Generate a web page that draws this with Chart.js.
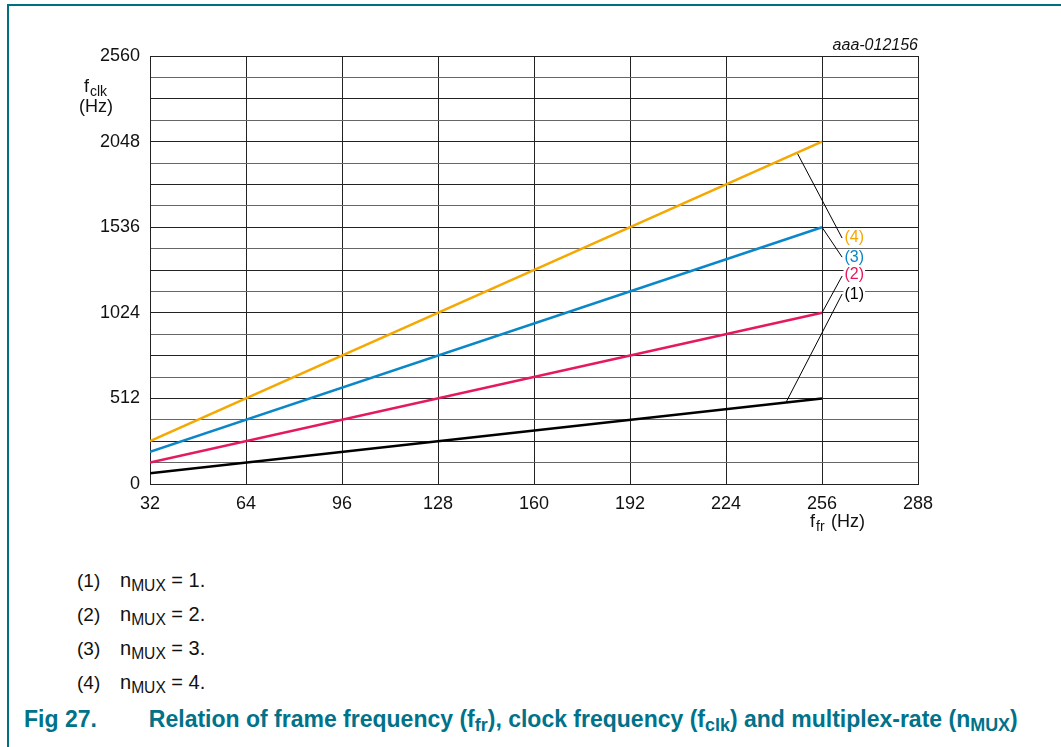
<!DOCTYPE html>
<html>
<head>
<meta charset="utf-8">
<script src="https://cdn.jsdelivr.net/npm/chart.js@4"></script>
<style>
  body { margin: 0; background: #fff; font-family: "Liberation Sans", Arial, sans-serif; }
  #frame { position: absolute; left: 7px; top: 4px; width: 1054px; height: 743px;
           border-top: 2px solid #00707f; border-left: 2px solid #00707f; }
  #wrap { position: absolute; left: 0; top: 0; width: 1061px; height: 545px; }
  .note { position: absolute; left: 77px; font-size: 19px; color: #111; }
  .note span { position: absolute; left: 43px; white-space: nowrap; font-size: 20px; }
  sub { font-size: 78%; vertical-align: -0.25em; }
  #caption { position: absolute; left: 24px; top: 706px; font-size: 23px; font-weight: bold;
             color: #00728a; white-space: nowrap; }
  #caption b { margin-right: 52px; }
</style>
</head>
<body>
<div id="frame"></div>
<div id="wrap"><canvas id="myChart" width="1061" height="545"></canvas></div>

<div class="note" style="top:570px">(1)<span style="top:-1px">n<sub>MUX</sub> = 1.</span></div>
<div class="note" style="top:604px">(2)<span style="top:-1px">n<sub>MUX</sub> = 2.</span></div>
<div class="note" style="top:638px">(3)<span style="top:-1px">n<sub>MUX</sub> = 3.</span></div>
<div class="note" style="top:672px">(4)<span style="top:-1px">n<sub>MUX</sub> = 4.</span></div>
<div id="caption"><b>Fig 27.</b>Relation of frame frequency (f<sub>fr</sub>), clock frequency (f<sub>clk</sub>) and multiplex-rate (n<sub>MUX</sub>)</div>

<script>
// frame frequency (x) and clock frequency (y) for each multiplex rate
const ffr = [32, 256];
const fclkMux1 = [64, 512];
const fclkMux2 = [128, 1024];
const fclkMux3 = [192, 1536];
const fclkMux4 = [256, 2048];

const seriesColors = ['#000000', '#e5195c', '#0a87c8', '#f5a800'];
const seriesLabels = ['(1)', '(2)', '(3)', '(4)'];

// leader lines: [x1, y1, x2, y2] from curve to label
const leader1 = [244, 488, 262.7, 1136];
const leader2 = [256, 1024, 262.7, 1244];
const leader3 = [256, 1536, 262.7, 1357];
const leader4 = [247.7, 1981, 262.7, 1471];
// label anchor positions (x, y)
const labelX = 263.5;
const labelY = [1130, 1250, 1357, 1471];

const yTicksLabelled = [0, 512, 1024, 1536, 2048, 2560];

function pts(xs, ys) { return xs.map((x, i) => ({x: x, y: ys[i]})); }
function seg(a) { return [{x: a[0], y: a[1]}, {x: a[2], y: a[3]}]; }

const font = '"Liberation Sans", Arial, sans-serif';

// draws axis titles with subscripts, the id tag and curve labels
const extras = {
  id: 'extras',
  afterDraw(chart) {
    const c = chart.ctx;
    const xs = chart.scales.x, ys = chart.scales.y;
    c.save();
    c.fillStyle = '#111';
    c.textBaseline = 'alphabetic';
    // y title
    c.textAlign = 'left';
    c.font = '18px ' + font;
    c.fillText('f', 84, 92);
    c.font = '14px ' + font;
    c.fillText('clk', 90, 96);
    c.font = '18px ' + font;
    c.fillText('(Hz)', 79, 112);
    // x title
    c.fillText('f', 810, 527);
    c.font = '14px ' + font;
    c.fillText('fr', 816, 531);
    c.font = '18px ' + font;
    c.fillText('(Hz)', 831, 527);
    // id tag
    c.textAlign = 'right';
    c.font = 'italic 16px ' + font;
    c.fillText('aaa-012156', 918, 50);
    // curve labels
    c.textAlign = 'left';
    c.textBaseline = 'middle';
    c.font = '16px ' + font;
    labelY.forEach((v, i) => {
      const px = xs.getPixelForValue(labelX);
      const py = ys.getPixelForValue(v);
      const w = c.measureText(seriesLabels[i]).width;
      c.fillStyle = '#fff';
      c.fillRect(px - 1, py - 7, w + 2, 14);
      c.fillStyle = seriesColors[i];
      c.fillText(seriesLabels[i], px, py);
    });
    c.restore();
  }
};

function line(data, color, width) {
  return {data: data, borderColor: color, backgroundColor: color, borderWidth: width,
          pointRadius: 0, fill: false, tension: 0};
}

new Chart(document.getElementById('myChart'), {
  type: 'line',
  data: {
    datasets: [
      line(pts(ffr, fclkMux1), seriesColors[0], 2.5),
      line(pts(ffr, fclkMux2), seriesColors[1], 2.5),
      line(pts(ffr, fclkMux3), seriesColors[2], 2.5),
      line(pts(ffr, fclkMux4), seriesColors[3], 2.5),
      line(seg(leader1), '#000', 1),
      line(seg(leader2), '#000', 1),
      line(seg(leader3), '#000', 1),
      line(seg(leader4), '#000', 1)
    ]
  },
  options: {
    responsive: false,
    animation: false,
    layout: {padding: {top: 56, right: 143, left: 0, bottom: 0}},
    plugins: {legend: {display: false}, tooltip: {enabled: false}},
    scales: {
      x: {
        type: 'linear', min: 32, max: 288,
        afterFit: s => { s.height = 545 - 484; },
        border: {color: '#222', width: 1},
        grid: {color: '#222', lineWidth: 1, drawTicks: false},
        ticks: {stepSize: 32, padding: 9, color: '#111', font: {size: 18, family: font}}
      },
      y: {
        min: 0, max: 2560,
        afterFit: s => { s.width = 150; },
        border: {color: '#222', width: 1},
        grid: {color: (ctx) => (ctx.index % 2 ? '#666' : '#222'), lineWidth: 1, drawTicks: false},
        ticks: {
          stepSize: 128, autoSkip: false, padding: 10, color: '#111',
          font: {size: 18, family: font},
          callback: v => (yTicksLabelled.includes(v) ? v : '')
        }
      }
    }
  },
  plugins: [extras]
});
</script>
</body>
</html>
